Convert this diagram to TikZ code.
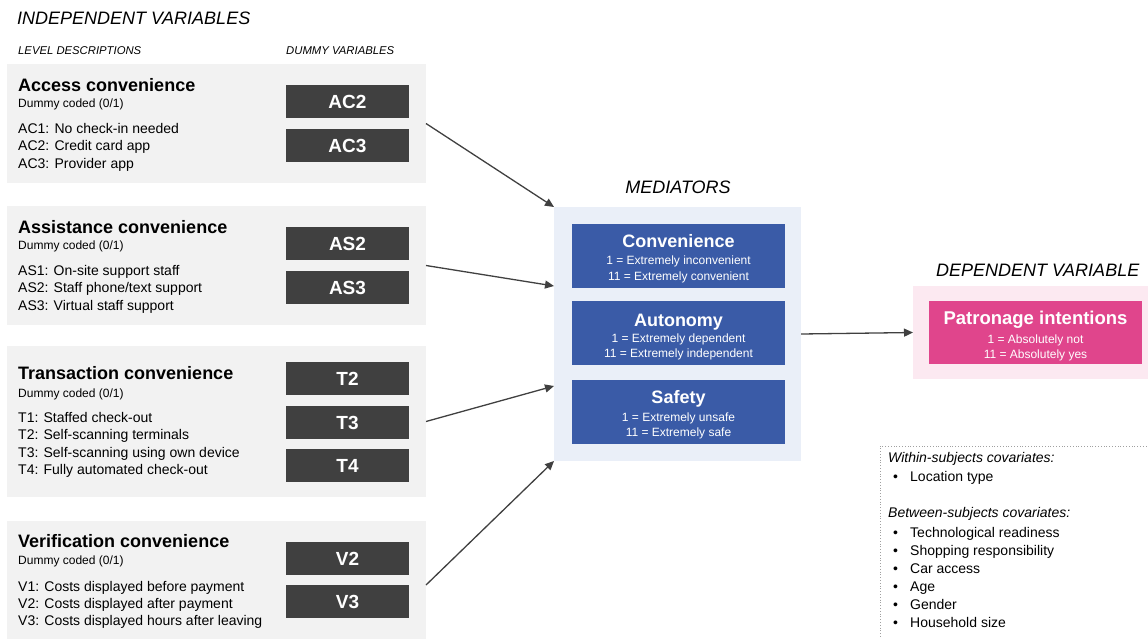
\documentclass[tikz,border=0pt]{standalone}
\usepackage{fontspec}
\setmainfont{Liberation Sans}
\usetikzlibrary{arrows.meta}
\definecolor{gbg}{HTML}{F2F2F2}
\definecolor{dk}{HTML}{404040}
\definecolor{mbg}{HTML}{EAEFF8}
\definecolor{blu}{HTML}{3A5BA7}
\definecolor{pbgc}{HTML}{FCE9F1}
\definecolor{pnk}{HTML}{E0458C}
\definecolor{arc}{HTML}{404040}
\definecolor{dotc}{HTML}{A0A0A0}
\begin{document}
\begin{tikzpicture}[x=1pt,y=-1pt,
  box/.style={anchor=north west, inner sep=0pt, outer sep=0pt},
  gbox/.style={box, fill=gbg, minimum width=419pt},
  dbox/.style={box, fill=dk, text=white, minimum width=123pt, minimum height=33pt,
    font=\fontsize{19}{19}\selectfont\bfseries},
  bbox/.style={box, fill=blu, minimum width=213pt, minimum height=64pt},
  tx/.style={anchor=base west, inner sep=0pt},
  ttl/.style={tx, font=\fontsize{18}{18}\selectfont\bfseries},
  dum/.style={tx, font=\fontsize{12}{12}\selectfont},
  bdy/.style={tx, font=\fontsize{14}{14}\selectfont},
  hdr/.style={tx, font=\fontsize{18}{18}\selectfont\itshape},
  shdr/.style={tx, font=\fontsize{11.3}{11.3}\selectfont\itshape},
  wttl/.style={anchor=base, inner sep=0pt, text=white, font=\fontsize{18}{18}\selectfont\bfseries},
  wsub/.style={anchor=base, inner sep=0pt, text=white, font=\fontsize{12}{12}\selectfont},
  ctl/.style={tx, font=\fontsize{14}{14}\selectfont\itshape},
  arr/.style={draw=arc, line width=1.3pt, -{Triangle[length=9pt,width=8pt]}}
]
\useasboundingbox (0,0) rectangle (1148,638);
\clip (0,0) rectangle (1148,638);

% headers
\node[hdr] (hind) at (17,24) {INDEPENDENT VARIABLES};
\node[shdr] (hlev) at (18,54) {LEVEL DESCRIPTIONS};
\node[shdr] (hdum) at (286,54) {DUMMY VARIABLES};

% gray boxes
\node[gbox, minimum height=119pt] (g1) at (7,64) {};
\node[gbox, minimum height=119pt] (g2) at (7,206) {};
\node[gbox, minimum height=151pt] (g3) at (7,346) {};
\node[gbox, minimum height=128pt] (g4) at (7,521) {};

% box 1
\node[ttl] (t1) at (18,91) {Access convenience};
\node[dum] (d1) at (18,107) {Dummy coded (0/1)};
\node[bdy] (l11) at (18,133) {AC1: No check-in needed};
\node[bdy] (l12) at (18,150.5) {AC2: Credit card app};
\node[bdy] (l13) at (18,168) {AC3: Provider app};
\node[dbox] (ac2) at (286,85) {AC2};
\node[dbox] (ac3) at (286,129) {AC3};

% box 2
\node[ttl] (t2) at (18,233) {Assistance convenience};
\node[dum] (d2) at (18,249) {Dummy coded (0/1)};
\node[bdy] (l21) at (18,275) {AS1: On-site support staff};
\node[bdy] (l22) at (18,292.5) {AS2: Staff phone/text support};
\node[bdy] (l23) at (18,310) {AS3: Virtual staff support};
\node[dbox] (as2) at (286,227) {AS2};
\node[dbox] (as3) at (286,271) {AS3};

% box 3
\node[ttl] (t3) at (18,379) {Transaction convenience};
\node[dum] (d3) at (18,397) {Dummy coded (0/1)};
\node[bdy] (l31) at (18,422) {T1: Staffed check-out};
\node[bdy] (l32) at (18,439.5) {T2: Self-scanning terminals};
\node[bdy] (l33) at (18,457) {T3: Self-scanning using own device};
\node[bdy] (l34) at (18,474) {T4: Fully automated check-out};
\node[dbox] (tt2) at (286,362) {T2};
\node[dbox] (tt3) at (286,406) {T3};
\node[dbox] (tt4) at (286,449) {T4};

% box 4
\node[ttl] (t4) at (18,547) {Verification convenience};
\node[dum] (d4) at (18,564) {Dummy coded (0/1)};
\node[bdy] (l41) at (18,591) {V1: Costs displayed before payment};
\node[bdy] (l42) at (18,608) {V2: Costs displayed after payment};
\node[bdy] (l43) at (18,625) {V3: Costs displayed hours after leaving};
\node[dbox] (v2) at (286,542) {V2};
\node[dbox] (v3) at (286,585) {V3};

% mediators
\node[anchor=base, inner sep=0pt, font=\fontsize{18}{18}\selectfont\itshape] (hmed) at (678,193) {MEDIATORS};
\node[box, fill=mbg, minimum width=247pt, minimum height=254pt] (med) at (554,207) {};
\node[bbox] (conv) at (572,224) {};
\node[bbox] (auto) at (572,301) {};
\node[bbox] (safe) at (572,380) {};
\node[wttl] (convt) at (678.5,247) {Convenience};
\node[wsub] (convs1) at (678.5,264) {1 = Extremely inconvenient};
\node[wsub] (convs2) at (678.5,280) {11 = Extremely convenient};
\node[wttl] (autot) at (678.5,326) {Autonomy};
\node[wsub] (autos1) at (678.5,342) {1 = Extremely dependent};
\node[wsub] (autos2) at (678.5,357) {11 = Extremely independent};
\node[wttl] (safet) at (678.5,403) {Safety};
\node[wsub] (safes1) at (678.5,421) {1 = Extremely unsafe};
\node[wsub] (safes2) at (678.5,436) {11 = Extremely safe};

% dependent
\node[tx, font=\fontsize{18}{18}\selectfont\itshape] (hdep) at (936,276) {DEPENDENT VARIABLE};
\node[box, fill=pbgc, minimum width=240pt, minimum height=93pt] (pbg) at (913,286) {};
\node[box, fill=pnk, minimum width=213pt, minimum height=63pt] (pat) at (929,301) {};
\node[wttl, font=\fontsize{18.5}{18.5}\selectfont\bfseries] (patt) at (1035.5,324) {Patronage intentions};
\node[wsub] (pats1) at (1035.5,343) {1 = Absolutely not};
\node[wsub] (pats2) at (1035.5,358) {11 = Absolutely yes};

% covariates
\node[box, draw=dotc, dotted, line width=0.8pt, minimum width=290pt, minimum height=210pt] (cov) at (880,446) {};
\node[ctl] (cw) at (888,462) {Within-subjects covariates:};
\node[bdy] (cwb1) at (893,481) {•};
\node[bdy] (cw1) at (910,481) {Location type};
\node[ctl] (cb) at (888,517) {Between-subjects covariates:};
\node[bdy] (cbb1) at (893,537) {•};
\node[bdy] (cb1) at (910,537) {Technological readiness};
\node[bdy] (cbb2) at (893,555) {•};
\node[bdy] (cb2) at (910,555) {Shopping responsibility};
\node[bdy] (cbb3) at (893,573) {•};
\node[bdy] (cb3) at (910,573) {Car access};
\node[bdy] (cbb4) at (893,591) {•};
\node[bdy] (cb4) at (910,591) {Age};
\node[bdy] (cbb5) at (893,609) {•};
\node[bdy] (cb5) at (910,609) {Gender};
\node[bdy] (cbb6) at (893,627) {•};
\node[bdy] (cb6) at (910,627) {Household size};

% connectors
\coordinate (m2) at (554,286);
\coordinate (m3) at (554,386);
\draw[arr] (g1.east) -- (med.north west);
\draw[arr] (g2.east) -- (m2);
\draw[arr] (g3.east) -- (m3);
\draw[arr] (g4.east) -- (med.south west);
\draw[arr] (med.east) -- (pbg.west);
\end{tikzpicture}
\end{document}
